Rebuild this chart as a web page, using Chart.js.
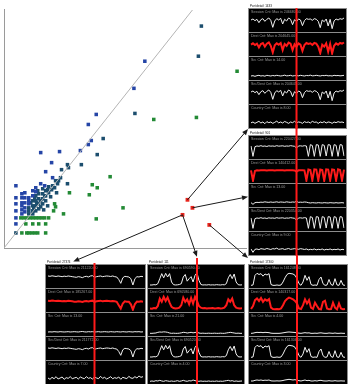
<!DOCTYPE html>
<html>
<head>
<meta charset="utf-8">
<script src="https://cdn.jsdelivr.net/npm/chart.js@4.4.1/dist/chart.umd.min.js"></script>
<style>
  body { margin: 0; background: #fff; }
  #stage { position: relative; width: 348px; height: 384px; overflow: hidden; }
  #scatter { position: absolute; left: 0; top: 0; }
  .panel { position: absolute; background: #8c8c8c; padding: 1px; display: flex; flex-direction: column; gap: 1px; }
  .panel canvas { display: block; background: #000; }
  #overlay { position: absolute; left: 0; top: 0; pointer-events: none; }
</style>
</head>
<body>
<div id="stage">
  <canvas id="scatter" width="250" height="252"></canvas>
  <div id="panels"></div>
  <canvas id="overlay" width="348" height="384"></canvas>
</div>
<script>
// scatter groups, [x, y]
const bluePts = [
  [12,62],[37,95],[56,96],[77,97],[85,123],[93,133],[131,159],[142,186],[85,103],[88,107],
  [48,85],[42,76],[49,70],[12,50],[12,44],[12,37],[12,30],[12,24],[18,54],[18,50],[18,45],
  [18,42],[18,38],[18,34],[21,55],[21,50],[21,45],[21,40],[21,36],[25,50],[25,47],[25,44],
  [29,57],[29,52],[32,60],[32,56],[41,62],[37,64]
];
const tealPts = [
  [199,221],[196,191],[132,134],[100,109],[94,93],[78,83],[64,83],[65,80],[58,78],[55,67],
  [64,64],[12,15],[25,40],[25,37],[25,34],[29,47],[29,42],[29,37],[29,34],[32,52],[32,47],
  [32,42],[32,37],[35,54],[35,49],[35,44],[35,39],[39,59],[39,54],[39,49],[39,44],[42,57],
  [42,52],[42,47],[45,61],[45,55],[49,62],[52,67],[47,51],[44,42],
  [27,45],[31,50],[34,57],[37,47],[41,52],[44,58],[48,58],[51,60],[54,64],[57,70],[53,55],
  [30,40],[33,45],[37,41],[40,38]
];
const greenPts = [
  [235,176],[194,130],[151,128],[107,71],[89,63],[94,60],[66,55],[86,53],[51,44],[60,34],
  [120,40],[93,29],[52,41],[50,37],
  [17,30],[20,30],[23,30],[26,30],[29,30],[32,30],[35,30],[38,30],[41,30],[45,30],
  [22,24],[29,24],[35,24],[42,24],
  [18,15],[23,15],[25,15],[28,15],[31,15],[34,15],[42,15]
];
const redPts = [[185,48],[190,40],[180,33],[207,23]];
const diagonal = [[0,0],[190,237]];

// port panels
const ports = ['1433', '901', '27374', '111', '17300'];
const rowNames = ['Session Cnt', 'Dest Cnt', 'Src Cnt', 'Src/Dest Cnt', 'Country Cnt'];
const maxes1433 = ['246680.00', '204645.00', '14.00', '204645.00', '8.00'];
const maxes901 = ['220427.00', '140412.00', '13.00', '220354.00', '9.00'];
const maxes27374 = ['211220.00', '185267.00', '13.00', '211772.00', '7.00'];
const maxes111 = ['690590.00', '690580.00', '21.00', '690520.00', '4.00'];
const maxes17300 = ['161248.00', '140317.00', '4.00', '161306.00', '3.00'];
const markIdx = [23, 23, 23, 24, 23];

const session1433 = [0.66,0.72,0.62,0.7,0.5,0.68,0.74,0.58,0.7,0.78,0.64,0.22,0.6,0.74,0.66,0.76,0.42,0.7,0.6,0.78,0.7,0.38,0.68,0.56,0.72,0.66,0.32,0.62,0.74,0.7,0.72,0.64,0.74,0.7,0.58,0.2,0.66,0.56,0.72,0.3,0.7,0.14,0.6,0.72,0.66,0.74,0.7,0.78];
const dest1433 = [0.62,0.7,0.6,0.68,0.45,0.66,0.72,0.5,0.68,0.75,0.55,0.15,0.58,0.7,0.62,0.72,0.3,0.66,0.55,0.74,0.68,0.3,0.64,0.5,0.7,0.62,0.25,0.6,0.72,0.66,0.7,0.6,0.72,0.68,0.5,0.12,0.62,0.5,0.7,0.2,0.66,0.1,0.55,0.7,0.62,0.72,0.68,0.75];
const src1433 = [0.18,0.2,0.16,0.2,0.22,0.18,0.2,0.17,0.22,0.2,0.18,0.21,0.19,0.22,0.2,0.18,0.2,0.23,0.19,0.2,0.22,0.18,0.2,0.21,0.19,0.22,0.2,0.18,0.21,0.2,0.23,0.19,0.2,0.22,0.2,0.18,0.21,0.2,0.22,0.19,0.2,0.18,0.22,0.2,0.21,0.19,0.2,0.22];
const srcDest1433 = session1433;
const country1433 = [0.25,0.3,0.22,0.28,0.34,0.24,0.3,0.2,0.32,0.26,0.3,0.22,0.28,0.35,0.25,0.3,0.24,0.33,0.28,0.22,0.3,0.26,0.34,0.25,0.3,0.28,0.22,0.32,0.27,0.3,0.24,0.34,0.28,0.3,0.22,0.3,0.26,0.32,0.24,0.3,0.28,0.22,0.3,0.26,0.32,0.28,0.3,0.26];

const session901 = [0.72,0.1,0.68,0.72,0.7,0.74,0.7,0.72,0.69,0.73,0.71,0.72,0.7,0.74,0.71,0.72,0.73,0.7,0.72,0.71,0.74,0.72,0.7,0.6,0.72,0.73,0.71,0.74,0.72,0.1,0.8,0.75,0.1,0.8,0.78,0.1,0.8,0.76,0.12,0.8,0.78,0.1,0.8,0.76,0.1,0.8,0.78,0.12];
const dest901 = [0.7,0.08,0.66,0.7,0.69,0.7,0.7,0.71,0.69,0.7,0.7,0.71,0.69,0.7,0.7,0.71,0.7,0.69,0.7,0.71,0.7,0.7,0.69,0.62,0.7,0.7,0.71,0.7,0.1,0.75,0.72,0.1,0.76,0.74,0.1,0.75,0.72,0.08,0.76,0.74,0.1,0.75,0.73,0.1,0.76,0.72,0.1,0.74];
const src901 = [0.2,0.1,0.2,0.22,0.21,0.23,0.22,0.25,0.23,0.22,0.24,0.22,0.23,0.25,0.22,0.24,0.23,0.22,0.25,0.23,0.22,0.24,0.23,0.28,0.22,0.23,0.22,0.24,0.23,0.2,0.18,0.2,0.19,0.18,0.2,0.19,0.18,0.2,0.19,0.18,0.2,0.19,0.18,0.2,0.18,0.19,0.2,0.18];
const srcDest901 = session901;
const country901 = [0.3,0.1,0.28,0.3,0.26,0.32,0.3,0.28,0.33,0.3,0.27,0.32,0.3,0.35,0.28,0.3,0.32,0.27,0.3,0.33,0.28,0.3,0.32,0.3,0.28,0.32,0.3,0.27,0.3,0.25,0.28,0.26,0.3,0.25,0.28,0.26,0.3,0.24,0.28,0.26,0.3,0.25,0.28,0.26,0.3,0.24,0.28,0.26];

const session27374 = [0.66,0.64,0.67,0.65,0.63,0.66,0.64,0.62,0.65,0.63,0.66,0.64,0.62,0.6,0.58,0.62,0.6,0.56,0.62,0.64,0.6,0.66,0.68,0.58,0.62,0.64,0.66,0.62,0.64,0.66,0.65,0.63,0.66,0.62,0.6,0.45,0.22,0.55,0.64,0.62,0.6,0.5,0.12,0.5,0.62,0.6,0.64,0.62];
const dest27374 = [0.62,0.6,0.63,0.61,0.6,0.62,0.6,0.58,0.6,0.59,0.62,0.6,0.58,0.56,0.55,0.58,0.57,0.54,0.58,0.6,0.57,0.6,0.62,0.55,0.58,0.6,0.62,0.58,0.6,0.62,0.6,0.58,0.6,0.58,0.55,0.35,0.15,0.45,0.58,0.56,0.55,0.4,0.08,0.42,0.56,0.55,0.58,0.56];
const src27374 = [0.18,0.19,0.18,0.2,0.19,0.18,0.2,0.19,0.18,0.19,0.2,0.18,0.19,0.2,0.19,0.18,0.2,0.21,0.19,0.18,0.2,0.19,0.2,0.18,0.19,0.2,0.18,0.19,0.2,0.19,0.18,0.2,0.19,0.18,0.2,0.19,0.18,0.2,0.19,0.18,0.2,0.19,0.18,0.2,0.19,0.2,0.18,0.19];
const srcDest27374 = session27374;
const country27374 = [0.3,0.22,0.34,0.26,0.38,0.24,0.3,0.36,0.22,0.32,0.28,0.38,0.26,0.3,0.34,0.24,0.36,0.3,0.26,0.38,0.28,0.32,0.24,0.36,0.3,0.26,0.4,0.28,0.34,0.24,0.3,0.38,0.26,0.32,0.28,0.36,0.22,0.34,0.3,0.26,0.4,0.3,0.28,0.38,0.3,0.42,0.34,0.38];

const session111 = [0.12,0.12,0.14,0.13,0.2,0.5,0.8,0.55,0.82,0.6,0.8,0.3,0.14,0.12,0.13,0.15,0.2,0.6,0.75,0.35,0.5,0.62,0.3,0.7,0.85,0.4,0.15,0.12,0.13,0.12,0.14,0.12,0.13,0.12,0.14,0.13,0.12,0.14,0.13,0.2,0.55,0.75,0.5,0.78,0.3,0.14,0.12,0.13];
const dest111 = [0.15,0.14,0.18,0.16,0.3,0.75,0.55,0.85,0.6,0.82,0.5,0.25,0.18,0.15,0.16,0.2,0.35,0.8,0.55,0.7,0.4,0.78,0.45,0.85,0.6,0.3,0.2,0.16,0.18,0.15,0.17,0.16,0.18,0.15,0.16,0.18,0.15,0.17,0.2,0.35,0.7,0.55,0.75,0.35,0.2,0.16,0.15,0.16];
const src111 = [0.1,0.1,0.11,0.12,0.16,0.18,0.17,0.19,0.18,0.16,0.12,0.1,0.11,0.1,0.1,0.11,0.13,0.16,0.15,0.12,0.14,0.16,0.13,0.15,0.17,0.12,0.1,0.11,0.1,0.1,0.11,0.1,0.1,0.11,0.1,0.1,0.11,0.1,0.1,0.12,0.14,0.16,0.14,0.12,0.1,0.11,0.1,0.1];
const srcDest111 = session111;
const country111 = [0.1,0.12,0.1,0.14,0.12,0.16,0.12,0.1,0.14,0.12,0.1,0.12,0.1,0.11,0.14,0.1,0.12,0.16,0.12,0.1,0.14,0.12,0.18,0.14,0.12,0.1,0.12,0.1,0.11,0.1,0.12,0.1,0.11,0.1,0.12,0.1,0.11,0.1,0.12,0.14,0.16,0.12,0.14,0.1,0.12,0.1,0.11,0.12];

const session17300 = [0.1,0.12,0.7,0.82,0.75,0.8,0.65,0.78,0.72,0.8,0.15,0.1,0.1,0.12,0.1,0.12,0.3,0.55,0.75,0.82,0.8,0.78,0.7,0.5,0.2,0.1,0.3,0.7,0.4,0.62,0.15,0.1,0.12,0.1,0.45,0.6,0.2,0.1,0.12,0.45,0.15,0.1,0.5,0.12,0.1,0.4,0.12,0.1];
const dest17300 = [0.12,0.3,0.65,0.75,0.6,0.78,0.55,0.7,0.62,0.72,0.2,0.12,0.1,0.12,0.1,0.15,0.35,0.6,0.72,0.8,0.76,0.7,0.6,0.45,0.15,0.12,0.35,0.7,0.45,0.65,0.2,0.12,0.5,0.3,0.12,0.1,0.55,0.62,0.15,0.1,0.12,0.5,0.2,0.1,0.45,0.15,0.1,0.12];
const src17300 = [0.1,0.11,0.14,0.16,0.15,0.16,0.14,0.16,0.15,0.14,0.11,0.1,0.1,0.1,0.1,0.11,0.13,0.15,0.17,0.18,0.17,0.16,0.15,0.13,0.11,0.1,0.12,0.14,0.12,0.13,0.1,0.1,0.11,0.1,0.12,0.13,0.11,0.1,0.1,0.12,0.11,0.1,0.12,0.1,0.1,0.11,0.1,0.1];
const srcDest17300 = session17300;
const country17300 = [0.12,0.12,0.16,0.18,0.16,0.18,0.15,0.17,0.16,0.18,0.13,0.12,0.12,0.13,0.12,0.13,0.15,0.18,0.2,0.22,0.2,0.18,0.2,0.16,0.14,0.12,0.15,0.18,0.14,0.16,0.12,0.12,0.14,0.12,0.15,0.16,0.13,0.12,0.12,0.14,0.12,0.12,0.14,0.12,0.12,0.13,0.12,0.12];

const panelSeries = [
  [session1433, dest1433, src1433, srcDest1433, country1433],
  [session901, dest901, src901, srcDest901, country901],
  [session27374, dest27374, src27374, srcDest27374, country27374],
  [session111, dest111, src111, srcDest111, country111],
  [session17300, dest17300, src17300, srcDest17300, country17300]
];
const panelMaxes = [maxes1433, maxes901, maxes27374, maxes111, maxes17300];

// layout only
const panelBoxes = [
  { left: 248, top: 8, width: 99, lineTop: 8 },
  { left: 248, top: 135, width: 99, lineTop: 125 },
  { left: 45, top: 264, width: 101, lineTop: 263 },
  { left: 147, top: 264, width: 98, lineTop: 258 },
  { left: 248, top: 264, width: 100, lineTop: 255 }
];
const rowH = 23;
// red point index -> panel, target as fraction of panel box
const links = [
  { from: 0, panel: 0, fx: 0, fy: 1 },
  { from: 1, panel: 1, fx: 0, fy: 0.51 },
  { from: 2, panel: 2, fx: 0.28, fy: -0.02 },
  { from: 2, panel: 3, fx: 0.51, fy: -0.06 },
  { from: 3, panel: 4, fx: 0, fy: -0.05 }
];

document.addEventListener('DOMContentLoaded', () => {
    const toXY = pts => pts.map(p => ({ x: p[0], y: p[1] }));
    const dot = (pts, color, r) => ({
        data: toXY(pts),
        backgroundColor: color,
        borderWidth: 0,
        pointStyle: 'rect',
        pointRadius: r
    });

    const scatter = new Chart(document.getElementById('scatter'), {
        type: 'scatter',
        data: {
            datasets: [
                { type: 'line', data: toXY(diagonal), borderColor: '#b4b4b4', borderWidth: 1, pointRadius: 0 },
                dot(bluePts, '#2545a6', 2.5),
                dot(tealPts, '#1c4e6e', 2.5),
                dot(greenPts, '#238a35', 2.5),
                dot(redPts, '#e8241c', 2.7)
            ]
        },
        options: {
            responsive: false,
            animation: false,
            layout: { padding: { left: 3, top: 9, right: 3, bottom: 4 } },
            plugins: { legend: { display: false }, tooltip: { enabled: false } },
            scales: {
                x: { type: 'linear', min: 0, max: 244, ticks: { display: false }, grid: { display: false, drawTicks: false }, border: { color: '#9a9a9a' } },
                y: { type: 'linear', min: 0, max: 238, ticks: { display: false }, grid: { display: false, drawTicks: false }, border: { color: '#9a9a9a' } }
            }
        }
    });

    const makeRow = (canvas, values, label, isRed) => new Chart(canvas, {
        type: 'line',
        data: {
            labels: values.map((_, i) => i),
            datasets: [{
                data: values,
                borderColor: isRed ? '#ff1a1a' : '#f0f0f0',
                borderWidth: isRed ? 2 : 1,
                pointRadius: 0,
                tension: 0
            }]
        },
        options: {
            responsive: false,
            animation: false,
            layout: { padding: { left: 2, right: 2, top: 0, bottom: 1 } },
            plugins: {
                legend: { display: false },
                tooltip: { enabled: false },
                title: {
                    display: true,
                    text: label,
                    align: 'start',
                    color: '#9a9a9a',
                    font: { size: 3.6, family: 'Arial', weight: 'normal' },
                    padding: { top: 1, bottom: 0 }
                }
            },
            scales: {
                x: { display: false },
                y: { display: false, min: 0, max: 1 }
            }
        }
    });

    const holder = document.getElementById('panels');
    const firstRows = [];
    panelBoxes.forEach((box, p) => {
        const div = document.createElement('div');
        div.className = 'panel';
        div.style.left = box.left + 'px';
        div.style.top = box.top + 'px';
        holder.appendChild(div);
        panelSeries[p].forEach((values, r) => {
            const c = document.createElement('canvas');
            c.width = box.width - 2;
            c.height = rowH;
            div.appendChild(c);
            const chart = makeRow(c, values, `${rowNames[r]}: Max is ${panelMaxes[p][r]}`, r === 1);
            if (r === 0) firstRows.push(chart);
        });
    });

    const ctx = document.getElementById('overlay').getContext('2d');
    const panelH = 2 + rowH * 5 + 4;

    // port titles
    ctx.fillStyle = '#111';
    ctx.font = '3px Arial';
    ctx.textBaseline = 'alphabetic';
    panelBoxes.forEach((box, p) => {
        ctx.fillText(`Port detail: ${ports[p]}`, box.left + 2, box.top - 1.5);
    });

    // highlighted time
    ctx.strokeStyle = '#ff1a1a';
    ctx.lineWidth = 2;
    panelBoxes.forEach((box, p) => {
        const x = box.left + 1 + firstRows[p].scales.x.getPixelForValue(markIdx[p]);
        ctx.beginPath();
        ctx.moveTo(x, box.lineTop);
        ctx.lineTo(x, box.top + panelH);
        ctx.stroke();
    });

    // arrows from red points to their panels
    const xs = scatter.scales.x;
    const ys = scatter.scales.y;
    ctx.strokeStyle = '#1a1a1a';
    ctx.fillStyle = '#1a1a1a';
    ctx.lineWidth = 1;
    links.forEach(link => {
        const pt = redPts[link.from];
        const x0 = xs.getPixelForValue(pt[0]);
        const y0 = ys.getPixelForValue(pt[1]);
        const box = panelBoxes[link.panel];
        const x1 = box.left + link.fx * box.width;
        const y1 = box.top + link.fy * panelH;
        const a = Math.atan2(y1 - y0, x1 - x0);
        const cos = Math.cos(a), sin = Math.sin(a);
        ctx.beginPath();
        ctx.moveTo(x0, y0);
        ctx.lineTo(x1 - 4 * cos, y1 - 4 * sin);
        ctx.stroke();
        ctx.beginPath();
        ctx.moveTo(x1, y1);
        ctx.lineTo(x1 - 6 * cos + 2.5 * sin, y1 - 6 * sin - 2.5 * cos);
        ctx.lineTo(x1 - 6 * cos - 2.5 * sin, y1 - 6 * sin + 2.5 * cos);
        ctx.closePath();
        ctx.fill();
    });
});
</script>
</body>
</html>
